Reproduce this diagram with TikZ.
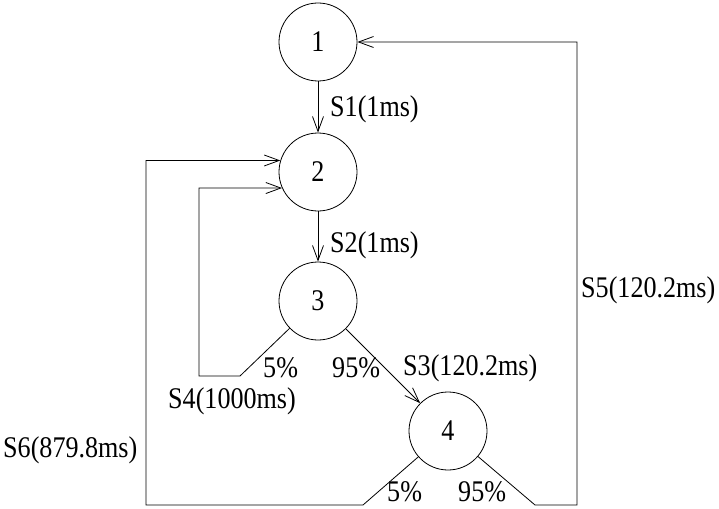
\documentclass[tikz,border=0pt]{standalone}
\usepackage{fontspec}
\setmainfont{Liberation Serif}
\usetikzlibrary{arrows.meta}
\newcommand{\mylbl}[1]{\scalebox{0.87}[1]{#1}}
\tikzset{
  st/.style={circle,draw,line width=0.8pt,minimum size=78pt,inner sep=0pt,font=\fontsize{30}{36}\selectfont},
  lbl/.style={anchor=base west,inner sep=0pt,font=\fontsize{30}{36}\selectfont},
  conn/.style={line width=0.8pt},
  arr/.style={conn,-{Straight Barb[length=15pt,width=11pt,line width=0.8pt]}}
}
\begin{document}
\begin{tikzpicture}[x=1pt,y=-1pt]
\useasboundingbox (0,0) rectangle (719,508);
\node[st] (c1) at (318,42) {\mylbl{1}};
\node[st] (c2) at (318,172) {\mylbl{2}};
\node[st] (c3) at (318,301) {\mylbl{3}};
\node[st] (c4) at (448,431) {\mylbl{4}};
% bend points
\coordinate (b4a) at (240,376);
\coordinate (b4b) at (199,376);
\coordinate (b6a) at (363,505);
\coordinate (b6b) at (146,505);
\coordinate (b5a) at (535,505);
\coordinate (b5b) at (577,505);
% edges
\draw[arr] (c1) -- (c2);
\draw[arr] (c2) -- (c3);
\draw[arr] (c3) -- (c4);
\draw[arr] (c3) -- (b4a) -- (b4b) |- (c2.204.2);
\draw[arr] (c4) -- (b6a) -- (b6b) |- (c2.163.6);
\draw[arr] (c4) -- (b5a) -- (b5b) |- (c1);
% labels
\node[lbl] (l1) at (330,117) {\mylbl{S1(1ms)}};
\node[lbl] (l2) at (330,252) {\mylbl{S2(1ms)}};
\node[lbl] (l3) at (403,375) {\mylbl{S3(120.2ms)}};
\node[lbl] (p3a) at (263,377) {\mylbl{5\%}};
\node[lbl] (p3b) at (332,377) {\mylbl{95\%}};
\node[lbl] (l4) at (168,408) {\mylbl{S4(1000ms)}};
\node[lbl] (l6) at (3,457) {\mylbl{S6(879.8ms)}};
\node[lbl] (l5) at (581,297) {\mylbl{S5(120.2ms)}};
\node[lbl] (p4a) at (387,501) {\mylbl{5\%}};
\node[lbl] (p4b) at (458,501) {\mylbl{95\%}};
\end{tikzpicture}
\end{document}
